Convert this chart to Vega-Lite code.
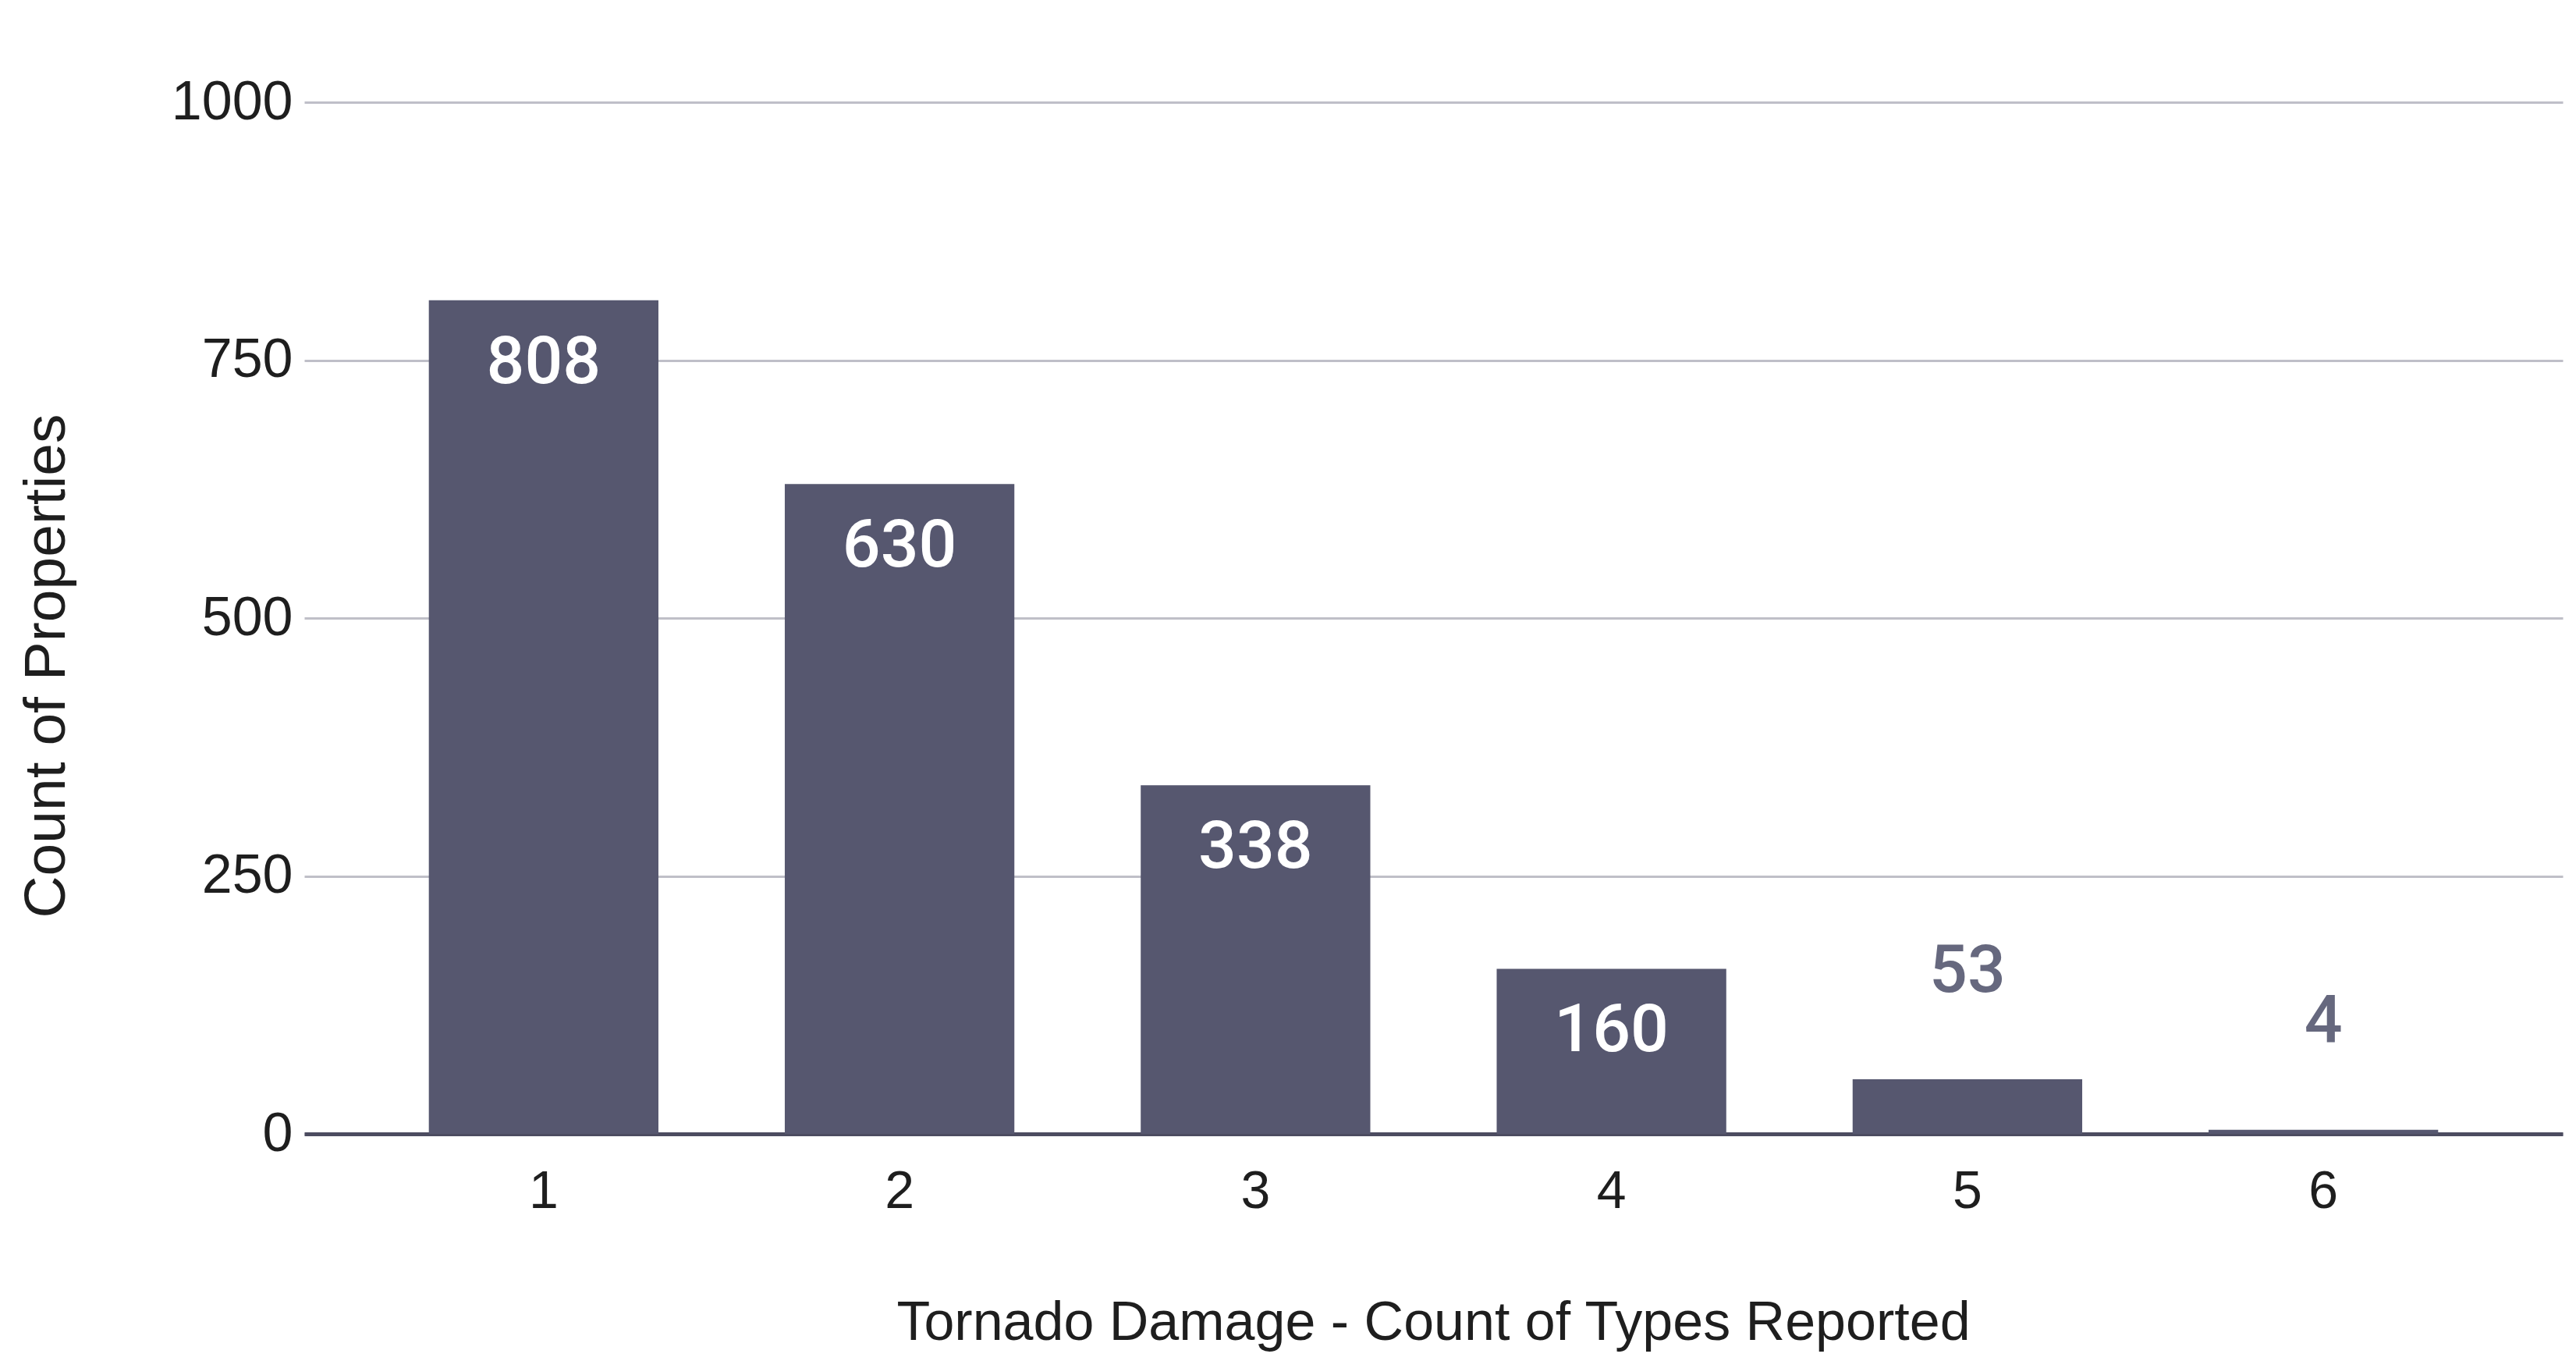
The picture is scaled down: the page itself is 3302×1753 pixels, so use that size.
{
  "$schema": "https://vega.github.io/schema/vega-lite/v6.json",
  "width": 2895,
  "height": 1322,
  "autosize": {"type": "none"},
  "padding": {"left": 390, "top": 131, "right": 17, "bottom": 300},
  "background": "white",
  "config": {
    "view": {"stroke": null},
    "font": "Liberation Sans",
    "axis": {"labelFont": "Liberation Sans", "titleFont": "Liberation Sans", "titleFontWeight": "normal", "labelColor": "#1e1e1e", "titleColor": "#1e1e1e"}
  },
  "data": {
    "values": [
      {"types": "1", "count": 808},
      {"types": "2", "count": 630},
      {"types": "3", "count": 338},
      {"types": "4", "count": 160},
      {"types": "5", "count": 53},
      {"types": "6", "count": 4}
    ]
  },
  "encoding": {
    "x": {
      "field": "types", "type": "nominal", "sort": null,
      "scale": {"paddingInner": 0.355, "paddingOuter": 0.35},
      "axis": {
        "title": "Tornado Damage - Count of Types Reported",
        "labelAngle": 0, "labelFontSize": 68, "labelPadding": 40,
        "ticks": false, "domain": true, "domainColor": "#4c4c60", "domainWidth": 5,
        "grid": false,
        "titleFontSize": 70, "titleX": 1447, "titleY": 242, "titleAlign": "center", "titleBaseline": "middle"
      }
    },
    "y": {
      "field": "count", "type": "quantitative",
      "scale": {"domain": [0, 1000], "nice": false},
      "axis": {
        "title": "Count of Properties",
        "values": [0, 250, 500, 750, 1000],
        "format": "d",
        "labelFontSize": 70, "labelPadding": 15,
        "ticks": false, "domain": false,
        "grid": true, "gridColor": "#bfbfc8", "gridWidth": 3,
        "titleFontSize": 75, "titleAngle": -90, "titleX": -331, "titleY": 722, "titleAlign": "center", "titleBaseline": "middle"
      }
    }
  },
  "layer": [
    {"mark": {"type": "bar", "color": "#56576f"}},
    {
      "transform": [{"filter": "datum.count >= 100"}],
      "mark": {"type": "text", "baseline": "middle", "dy": 80, "color": "white", "font": "Roboto", "fontWeight": 500, "fontSize": 86},
      "encoding": {"text": {"field": "count", "type": "quantitative"}}
    },
    {
      "transform": [{"filter": "datum.count < 100"}],
      "mark": {"type": "text", "baseline": "middle", "dy": -138, "color": "#66687e", "font": "Roboto", "fontWeight": 500, "fontSize": 86},
      "encoding": {"text": {"field": "count", "type": "quantitative"}}
    }
  ]
}
